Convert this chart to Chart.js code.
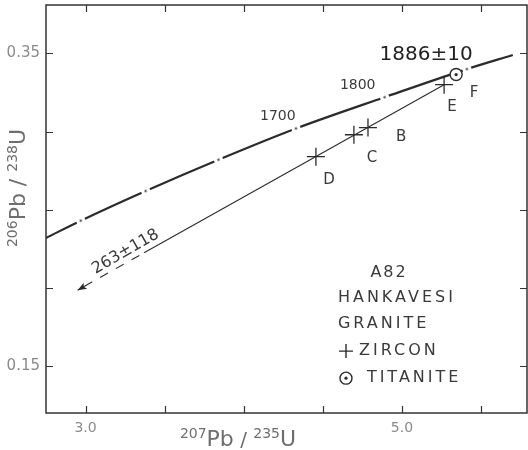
<!DOCTYPE html>
<html>
<head>
<meta charset="utf-8">
<script src="https://cdn.jsdelivr.net/npm/chart.js@4.4.1/dist/chart.umd.min.js"></script>
<style>
  html, body { margin: 0; padding: 0; background: #fff; }
  #wrap { width: 528px; height: 450px; }
</style>
</head>
<body>
<div id="wrap"><canvas id="concordia" width="528" height="450"></canvas></div>
<script>
// concordia curve
const concordiaX = [2.75, 2.97, 3.38, 3.84, 4.33, 4.89, 5.41, 5.70];
const concordiaY = [0.232, 0.243, 0.262, 0.282, 0.302, 0.322, 0.340, 0.349];

// 100 Ma marks on the concordia (1400 ... 1800) and the 1886 intercept
const ageMarkX = [2.97, 3.38, 3.84, 4.33, 4.89, 5.41];
const ageMarkY = [0.243, 0.262, 0.282, 0.302, 0.322, 0.340];

// zircon fractions
const zirconNames = ['B', 'C', 'D', 'E'];
const zirconX = [4.785, 4.696, 4.456, 5.266];
const zirconY = [0.3026, 0.298, 0.284, 0.330];

// titanite
const titaniteNames = ['F'];
const titaniteX = [5.342];
const titaniteY = [0.3365];

// discordia: solid part, dashed part, arrow to lower intercept
const discordiaX = [5.266, 3.37];
const discordiaY = [0.330, 0.2225];
const dashedX = [3.34, 3.04];
const dashedY = [0.2208, 0.2038];
const arrowX = [3.04, 2.95];
const arrowY = [0.2038, 0.1985];

const xTicks = [3.0, 3.5, 4.0, 4.5, 5.0, 5.5];
const xTickLabels = ['3.0', '', '', '', '5.0', ''];
const yTicks = [0.15, 0.20, 0.25, 0.30, 0.35];
const yTickLabels = ['0.15', '', '', '', '0.35'];

const ink = '#2b2b2b';
const pts = (xs, ys) => xs.map((x, i) => ({ x, y: ys[i] }));

// little white gap with a dot, used for the age marks
const markImg = document.createElement('canvas');
markImg.width = 9;
markImg.height = 5;
{
  const c = markImg.getContext('2d');
  c.fillStyle = '#fff';
  c.fillRect(0, 0, 9, 5);
  c.fillStyle = ink;
  c.fillRect(3.5, 1.5, 2, 2);
}

// text placed in data coordinates
const notes = [
  { t: '1700', x: 4.215, y: 0.3096, size: 14 },
  { t: '1800', x: 4.72, y: 0.3295, size: 14 },
  { t: '1886\u00b110', x: 5.152, y: 0.3494, size: 20, color: '#222' },
  { t: 'B', x: 4.994, y: 0.2962, size: 15 },
  { t: 'C', x: 4.81, y: 0.2833, size: 15 },
  { t: 'D', x: 4.538, y: 0.2692, size: 15 },
  { t: 'E', x: 5.316, y: 0.3154, size: 15 },
  { t: 'F', x: 5.456, y: 0.3244, size: 15 },
  { t: '263\u00b1118', x: 3.253, y: 0.2231, size: 16, rot: -30 },
  { t: 'A82', x: 4.918, y: 0.2096, size: 16, sp: 2 },
  { t: 'HANKAVESI', x: 4.595, y: 0.1936, size: 16, sp: 3, align: 'left' },
  { t: 'GRANITE', x: 4.595, y: 0.1769, size: 16, sp: 3, align: 'left' },
  { t: 'ZIRCON', x: 4.728, y: 0.1596, size: 16, sp: 3, align: 'left' },
  { t: 'TITANITE', x: 4.778, y: 0.1423, size: 16, sp: 3, align: 'left' }
];

function drawSupText(ctx, parts, x, y, align) {
  // parts: [text, size, dy]
  ctx.textBaseline = 'alphabetic';
  ctx.textAlign = 'left';
  let w = 0;
  parts.forEach(p => {
    ctx.font = p[1] + 'px "DejaVu Sans"';
    w += ctx.measureText(p[0]).width;
  });
  let cx = align === 'center' ? x - w / 2 : x;
  parts.forEach(p => {
    ctx.font = p[1] + 'px "DejaVu Sans"';
    ctx.fillText(p[0], cx, y + p[2]);
    cx += ctx.measureText(p[0]).width;
  });
}

const decor = {
  id: 'decor',
  afterDatasetsDraw(chart) {
    const { ctx, chartArea: a, scales: { x, y } } = chart;
    ctx.save();

    // frame
    ctx.strokeStyle = '#333';
    ctx.lineWidth = 1.5;
    ctx.strokeRect(a.left, a.top, a.right - a.left, a.bottom - a.top);

    // inward ticks on all four sides
    ctx.lineWidth = 1.2;
    ctx.beginPath();
    xTicks.forEach(v => {
      const px = Math.round(x.getPixelForValue(v)) + 0.5;
      ctx.moveTo(px, a.bottom); ctx.lineTo(px, a.bottom - 7);
      ctx.moveTo(px, a.top); ctx.lineTo(px, a.top + 7);
    });
    yTicks.forEach(v => {
      const py = Math.round(y.getPixelForValue(v)) + 0.5;
      ctx.moveTo(a.left, py); ctx.lineTo(a.left + 7, py);
      ctx.moveTo(a.right, py); ctx.lineTo(a.right - 7, py);
    });
    ctx.stroke();

    // tick labels
    ctx.fillStyle = '#8a8a8a';
    ctx.font = '14px "DejaVu Sans"';
    ctx.textAlign = 'center';
    ctx.textBaseline = 'middle';
    xTicks.forEach((v, i) => {
      if (xTickLabels[i]) ctx.fillText(xTickLabels[i], x.getPixelForValue(v), a.bottom + 15);
    });
    ctx.textAlign = 'right';
    ctx.font = '15px "DejaVu Sans"';
    yTicks.forEach((v, i) => {
      if (yTickLabels[i]) ctx.fillText(yTickLabels[i], a.left - 6, y.getPixelForValue(v));
    });

    // axis titles
    ctx.fillStyle = '#6e6e6e';
    drawSupText(ctx, [['207', 14, -8], ['Pb', 22, 0], [' / ', 20, 0], ['235', 14, -8], ['U', 22, 0]], 238, 446, 'center');
    ctx.save();
    ctx.translate(25, 188);
    ctx.rotate(-Math.PI / 2);
    drawSupText(ctx, [['206', 14, -8], ['Pb', 22, 0], [' / ', 22, 0], ['238', 14, -8], ['U', 22, 0]], 0, 0, 'center');
    ctx.restore();

    // notes
    notes.forEach(n => {
      ctx.save();
      ctx.fillStyle = n.color || '#3a3a3a';
      ctx.translate(x.getPixelForValue(n.x), y.getPixelForValue(n.y));
      if (n.rot) ctx.rotate(n.rot * Math.PI / 180);
      ctx.font = n.size + 'px "DejaVu Sans"';
      ctx.letterSpacing = (n.sp || 0) + 'px';
      ctx.textAlign = n.align || 'center';
      ctx.textBaseline = 'middle';
      ctx.fillText(n.t, 0, 0);
      ctx.restore();
    });

    // legend symbols
    ctx.strokeStyle = ink;
    ctx.lineWidth = 1.4;
    const lx = x.getPixelForValue(4.646);
    const ly1 = y.getPixelForValue(0.1596);
    const ly2 = y.getPixelForValue(0.1423);
    ctx.beginPath();
    ctx.moveTo(lx - 7, ly1); ctx.lineTo(lx + 7, ly1);
    ctx.moveTo(lx, ly1 - 7); ctx.lineTo(lx, ly1 + 7);
    ctx.stroke();
    ctx.beginPath();
    ctx.arc(lx, ly2, 6, 0, Math.PI * 2);
    ctx.stroke();
    ctx.fillStyle = ink;
    ctx.beginPath();
    ctx.arc(lx, ly2, 1.6, 0, Math.PI * 2);
    ctx.fill();

    // arrow head at the end of the discordia
    const meta = chart.getDatasetMeta(chart.data.datasets.findIndex(d => d.label === 'arrow'));
    const p0 = meta.data[0], p1 = meta.data[1];
    const ang = Math.atan2(p1.y - p0.y, p1.x - p0.x);
    ctx.translate(p1.x, p1.y);
    ctx.rotate(ang);
    ctx.beginPath();
    ctx.moveTo(0, 0);
    ctx.lineTo(-9, -3.5);
    ctx.lineTo(-7, 0);
    ctx.lineTo(-9, 3.5);
    ctx.closePath();
    ctx.fill();
    ctx.restore();
  }
};

new Chart(document.getElementById('concordia'), {
  type: 'scatter',
  data: {
    datasets: [
      {
        label: 'titanite dot',
        data: pts(titaniteX, titaniteY),
        pointStyle: 'circle',
        pointRadius: 1.6,
        backgroundColor: ink,
        borderWidth: 0,
        order: 0
      },
      {
        label: 'titanite',
        data: pts(titaniteX, titaniteY),
        pointStyle: 'circle',
        pointRadius: 6,
        backgroundColor: '#fff',
        borderColor: ink,
        borderWidth: 1.4,
        order: 1
      },
      {
        label: 'zircon',
        data: pts(zirconX, zirconY),
        pointStyle: 'cross',
        pointRadius: 9,
        borderColor: ink,
        borderWidth: 1.3,
        order: 2
      },
      {
        label: 'age marks',
        data: pts(ageMarkX, ageMarkY),
        pointStyle: markImg,
        rotation: -21,
        order: 3
      },
      {
        label: 'concordia',
        data: pts(concordiaX, concordiaY),
        showLine: true,
        tension: 0.4,
        cubicInterpolationMode: 'monotone',
        borderColor: ink,
        borderWidth: 2.2,
        pointRadius: 0,
        order: 4
      },
      {
        label: 'discordia',
        data: pts(discordiaX, discordiaY),
        showLine: true,
        borderColor: ink,
        borderWidth: 1.1,
        pointRadius: 0,
        order: 5
      },
      {
        label: 'dashed',
        data: pts(dashedX, dashedY),
        showLine: true,
        borderColor: ink,
        borderWidth: 1.1,
        borderDash: [9, 9],
        pointRadius: 0,
        order: 6
      },
      {
        label: 'arrow',
        data: pts(arrowX, arrowY),
        showLine: true,
        borderColor: ink,
        borderWidth: 1.1,
        pointRadius: 0,
        order: 7
      }
    ]
  },
  options: {
    responsive: false,
    animation: false,
    layout: {
      autoPadding: false,
      padding: { left: 46, right: 1, top: 5, bottom: 37 }
    },
    plugins: {
      legend: { display: false },
      tooltip: { enabled: false }
    },
    scales: {
      x: {
        type: 'linear',
        display: false,
        min: 2.75,
        max: 5.79,
        afterBuildTicks: s => { s.ticks = xTicks.map(v => ({ value: v })); }
      },
      y: {
        type: 'linear',
        display: false,
        min: 0.12,
        max: 0.381,
        afterBuildTicks: s => { s.ticks = yTicks.map(v => ({ value: v })); }
      }
    }
  },
  plugins: [decor]
});
</script>
</body>
</html>
